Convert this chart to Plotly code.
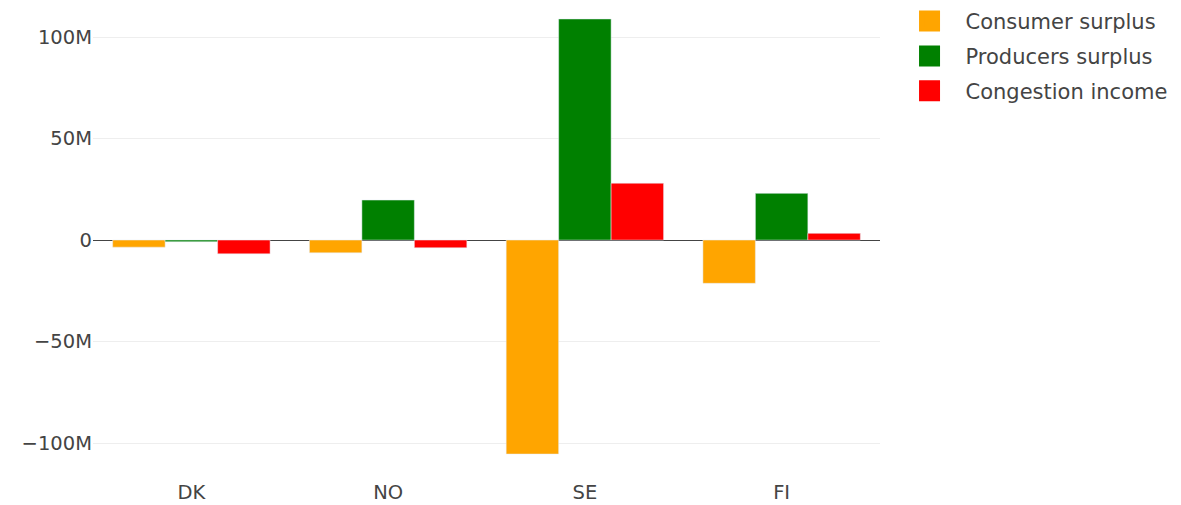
import plotly.graph_objects as go

countries = ["DK", "NO", "SE", "FI"]
consumer_surplus = [-3.5e6, -6.3e6, -105.4e6, -21.3e6]
producers_surplus = [-0.8e6, 19.7e6, 108.9e6, 23.0e6]
congestion_income = [-6.8e6, -3.8e6, 28.0e6, 3.3e6]

series = [
    ("Consumer surplus", consumer_surplus, "orange"),
    ("Producers surplus", producers_surplus, "green"),
    ("Congestion income", congestion_income, "red"),
]

fig = go.Figure()
for name, vals, col in series:
    fig.add_trace(go.Bar(x=countries, y=vals, name=name, marker=dict(color=col),
                         showlegend=False, legendgroup=name))
for name, vals, col in series:
    fig.add_trace(go.Scatter(x=[None], y=[None], mode="markers", name=name,
                             legendgroup=name,
                             marker=dict(symbol="square", size=22, color=col,
                                         line=dict(width=6, color=col))))

fig.update_layout(
    width=1181, height=505,
    barmode="group",
    bargap=0.2,
    plot_bgcolor="white",
    paper_bgcolor="white",
    margin=dict(l=85, r=309, t=0, b=35, autoexpand=False),
    font=dict(family="DejaVu Sans, Verdana, sans-serif", size=19.5, color="#444"),
    legend=dict(x=1.0172, y=1.015, xanchor="left", yanchor="top",
                font=dict(size=21, color="#444"), itemwidth=62,
                tracegroupgap=4.5),
    xaxis=dict(tickfont=dict(size=19.5), showgrid=False),
    yaxis=dict(range=[-117.2e6, 114.3e6], tickvals=[-100e6, -50e6, 0, 50e6, 100e6],
               gridcolor="#eeeeee", zeroline=True, zerolinecolor="#444",
               zerolinewidth=1, tickfont=dict(size=19.5)),
)

fig.write_html("out.html")
